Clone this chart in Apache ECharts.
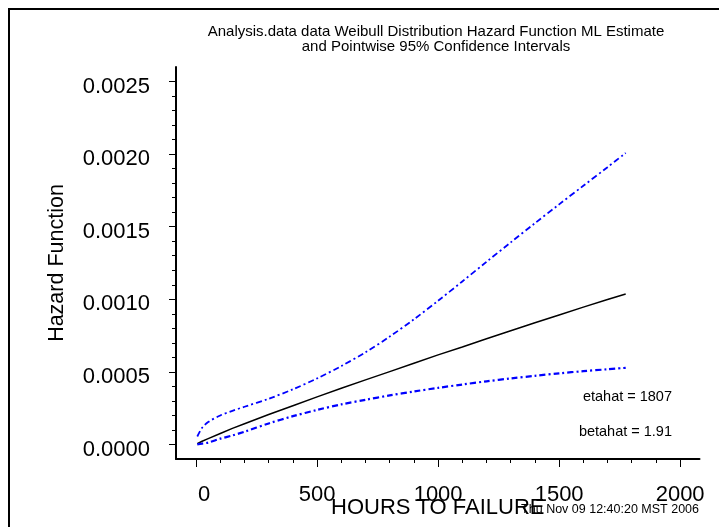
<!DOCTYPE html>
<html>
<head>
<meta charset="utf-8">
<script src="https://cdn.jsdelivr.net/npm/echarts@6/dist/echarts.min.js"></script>
<style>
html,body{margin:0;padding:0;background:#fff;}
#chart{width:719px;height:527px;}
</style>
</head>
<body>
<div id="chart"></div>
<script>
// ---- data ----
var hours      = [5, 25, 50, 100, 150, 200, 300, 400, 500, 600, 700, 800, 900, 1000, 1100, 1200, 1300, 1400, 1500, 1600, 1700, 1775];
var mlEstimate = [0.000005, 0.000022, 0.000040, 0.000076, 0.000111, 0.000143, 0.000206, 0.000267, 0.000328, 0.000387, 0.000445, 0.000502, 0.000559, 0.000617, 0.000672, 0.000728, 0.000783, 0.000838, 0.000892, 0.000946, 0.000999, 0.001036];
var upper95    = [0.000055, 0.000115, 0.000155, 0.000200, 0.000232, 0.000260, 0.000315, 0.000380, 0.000455, 0.000540, 0.000635, 0.000743, 0.000862, 0.000990, 0.001123, 0.001258, 0.001392, 0.001524, 0.001654, 0.001782, 0.001910, 0.002008];
var lower95    = [0.000001, 0.000006, 0.000013, 0.000040, 0.000062, 0.000088, 0.000145, 0.000195, 0.000238, 0.000276, 0.000308, 0.000338, 0.000365, 0.000390, 0.000413, 0.000435, 0.000455, 0.000473, 0.000490, 0.000505, 0.000518, 0.000528];

var xMajorTicks = [0, 500, 1000, 1500, 2000];
var xMinorTicks = [100, 200, 300, 400, 600, 700, 800, 900, 1100, 1200, 1300, 1400, 1600, 1700, 1800, 1900];
var yMajorTicks = [0, 0.0005, 0.0010, 0.0015, 0.0020, 0.0025];
var yMinorTicks = [0.0001, 0.0002, 0.0003, 0.0004, 0.0006, 0.0007, 0.0008, 0.0009, 0.0011, 0.0012, 0.0013, 0.0014,
                   0.0016, 0.0017, 0.0018, 0.0019, 0.0021, 0.0022, 0.0023, 0.0024];

var titleText = 'Analysis.data data Weibull Distribution Hazard Function ML Estimate\nand Pointwise 95% Confidence Intervals';
var xName = 'HOURS TO FAILURE';
var yName = 'Hazard Function';
var noteEta = 'etahat = 1807';
var noteBeta = 'betahat = 1.91';
var stamp = 'Thu Nov 09 12:40:20 MST 2006';

function pairs(xs, ys) { return xs.map(function (x, i) { return [x, ys[i]]; }); }

var FONT = '"Liberation Sans", Arial, Helvetica, sans-serif';
var X_MIN = -83, X_MAX = 2080, Y_MIN = -0.0001, Y_MAX = 0.0026;

var chart = echarts.init(document.getElementById('chart'), null, {renderer: 'canvas'});
chart.setOption({
  animation: false,
  backgroundColor: '#ffffff',
  textStyle: {fontFamily: FONT},
  grid: {left: 176, top: 67, width: 523.5, height: 392, containLabel: false, outerBoundsMode: 'none'},
  xAxis: [{
    type: 'value', min: X_MIN, max: X_MAX,
    name: xName, nameLocation: 'middle', nameGap: 38, nameMoveOverlap: false,
    nameTextStyle: {fontSize: 22, color: '#000', fontFamily: FONT},
    axisLine: {show: true, onZero: false, lineStyle: {color: '#000', width: 2}},
    axisTick: {show: true, customValues: xMajorTicks, length: 8, lineStyle: {color: '#000', width: 1}},
    axisLabel: {show: true, customValues: xMajorTicks, margin: 25, fontSize: 22, color: '#000', fontFamily: FONT,
      formatter: function (v) { return v === 0 ? '{z|0}' : String(v); },
      rich: {z: {fontSize: 22, color: '#000', fontFamily: FONT, padding: [0, 0, 0, 16]}}},
    splitLine: {show: false}
  }, {
    type: 'value', min: X_MIN, max: X_MAX, position: 'bottom',
    axisLine: {show: false, onZero: false},
    axisTick: {show: true, customValues: xMinorTicks, length: 4, lineStyle: {color: '#000', width: 1}},
    axisLabel: {show: false},
    splitLine: {show: false}
  }],
  yAxis: [{
    type: 'value', min: Y_MIN, max: Y_MAX,
    name: yName, nameLocation: 'middle', nameGap: 108, nameRotate: 90, nameMoveOverlap: false,
    nameTextStyle: {fontSize: 21.5, color: '#000', fontFamily: FONT},
    axisLine: {show: true, onZero: false, lineStyle: {color: '#000', width: 2}},
    axisTick: {show: true, customValues: yMajorTicks, length: 7, lineStyle: {color: '#000', width: 1}},
    axisLabel: {show: true, customValues: yMajorTicks, margin: 26, fontSize: 22, color: '#000', fontFamily: FONT,
      formatter: function (v) { return '{a|' + v.toFixed(4) + '}'; },
      rich: {a: {fontSize: 22, color: '#000', fontFamily: FONT, padding: [10, 0, 0, 0]}}},
    splitLine: {show: false}
  }, {
    type: 'value', min: Y_MIN, max: Y_MAX, position: 'left',
    axisLine: {show: false, onZero: false},
    axisTick: {show: true, customValues: yMinorTicks, length: 4, lineStyle: {color: '#000', width: 1}},
    axisLabel: {show: false},
    splitLine: {show: false}
  }],
  series: [{
    name: 'ML Estimate', type: 'line', xAxisIndex: 0, yAxisIndex: 0,
    data: pairs(hours, mlEstimate), showSymbol: false, smooth: false,
    lineStyle: {color: '#000000', width: 1.5, type: 'solid'}
  }, {
    name: 'Upper 95%', type: 'line', xAxisIndex: 0, yAxisIndex: 0,
    data: pairs(hours, upper95), showSymbol: false, smooth: 0.3,
    lineStyle: {color: '#0000ff', width: 1.8, type: [6, 3, 2, 3]}
  }, {
    name: 'Lower 95%', type: 'line', xAxisIndex: 0, yAxisIndex: 0,
    data: pairs(hours, lower95), showSymbol: false, smooth: 0.3,
    lineStyle: {color: '#0000ff', width: 2.2, type: [6, 3, 2, 3]}
  }],
  graphic: [{
    type: 'rect', silent: true, z: 0,
    shape: {x: 9, y: 9, width: 760, height: 560},
    style: {fill: 'none', stroke: '#000', lineWidth: 2}
  }, {
    type: 'text', x: 436, y: 25, silent: true,
    style: {text: titleText, font: '15px ' + FONT, fill: '#000', textAlign: 'center', textVerticalAlign: 'top', lineHeight: 14.5}
  }, {
    type: 'text', x: 672, y: 397, silent: true,
    style: {text: noteEta, font: '14.5px ' + FONT, fill: '#000', textAlign: 'right', textVerticalAlign: 'middle'}
  }, {
    type: 'text', x: 672, y: 432, silent: true,
    style: {text: noteBeta, font: '14.5px ' + FONT, fill: '#000', textAlign: 'right', textVerticalAlign: 'middle'}
  }, {
    type: 'text', x: 699, y: 509.5, silent: true,
    style: {text: stamp, font: '12.5px ' + FONT, fill: '#000', textAlign: 'right', textVerticalAlign: 'middle'}
  }]
});
</script>
</body>
</html>
